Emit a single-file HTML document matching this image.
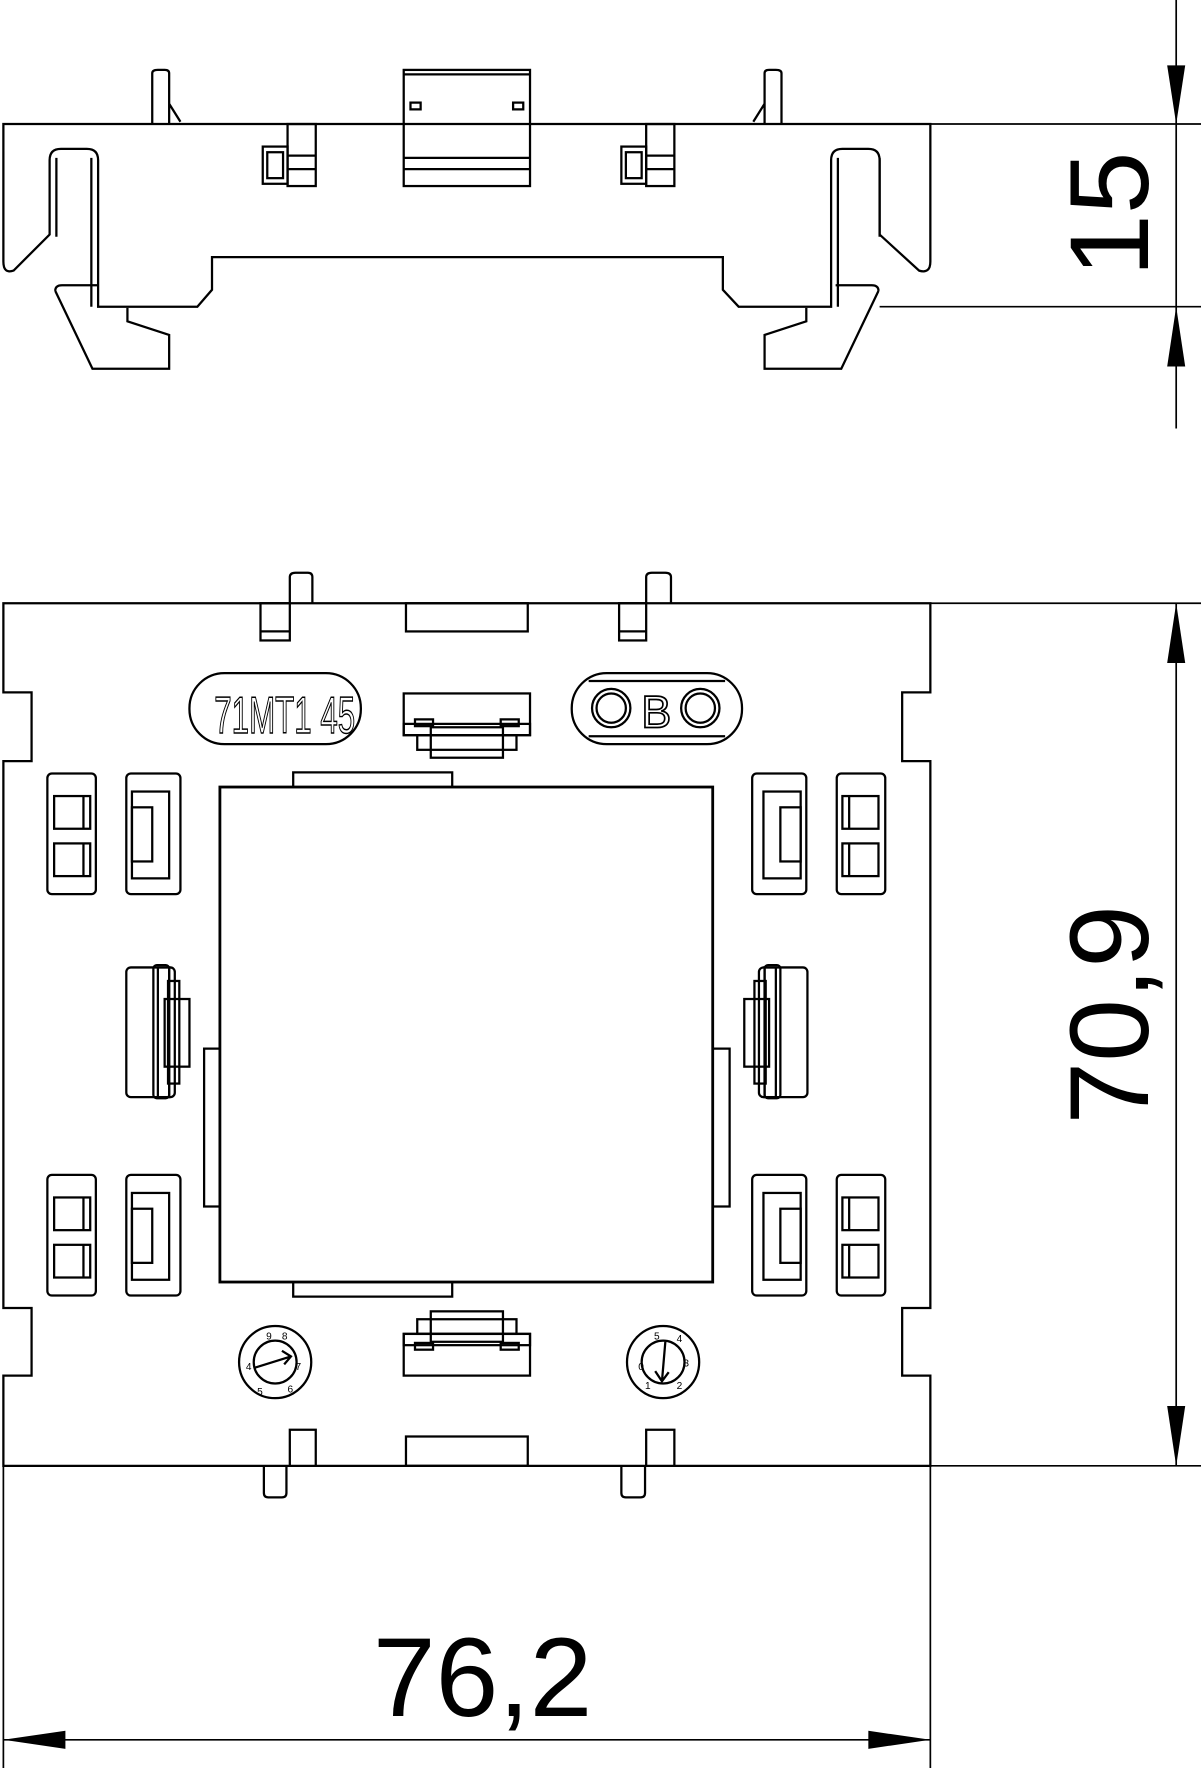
<!DOCTYPE html>
<html><head><meta charset="utf-8"><style>
html,body{margin:0;padding:0;background:#fff;}
svg{display:block;}
text{font-family:"Liberation Sans",sans-serif;}
</style></head><body>
<svg width="1201" height="1768" viewBox="0 0 1065 1568" preserveAspectRatio="none" xmlns="http://www.w3.org/2000/svg">
<defs>
<g id="boxA">
<rect x="0" y="0" width="43" height="107" rx="4" fill="none"/>
<rect x="6" y="20" width="32" height="29" fill="none"/>
<rect x="6" y="62" width="32" height="29" fill="none"/>
<line x1="32" y1="20" x2="32" y2="49"/><line x1="32" y1="62" x2="32" y2="91"/>
</g>
<g id="boxB">
<rect x="0" y="0" width="48" height="107" rx="4" fill="none"/>
<rect x="5" y="16" width="33" height="77" fill="none"/>
<rect x="5" y="30" width="18" height="48" fill="none"/>
</g>
<g id="clip">
<rect x="0" y="0" width="43" height="115" rx="4" fill="none"/>
<rect x="24" y="-2" width="14" height="118" rx="3" fill="none"/>
<rect x="28" y="0" width="10" height="115" fill="none"/>
<rect x="37" y="12" width="10" height="91" fill="none"/>
<rect x="34" y="28" width="22" height="60" fill="none"/>
</g>
<g id="conn">
<rect x="0" y="0" width="112" height="37" fill="none"/>
<rect x="0" y="27" width="112" height="10" fill="none"/>
<rect x="24" y="30" width="64" height="27" fill="none"/>
<rect x="12" y="37" width="88" height="13" fill="none"/>
<rect x="10" y="23" width="16" height="6" fill="none"/>
<rect x="86" y="23" width="16" height="6" fill="none"/>
</g>
</defs>
<g stroke="#000" stroke-width="2" fill="none">
<!-- TOP VIEW -->
<path d="M3,110 H825 V232 Q825,243 815,240 L780,208 V142 Q780,132 770,132 H747 Q737,132 737,142 V272 H655 L641,257 V228 H188 V257 L175,272 H87 V142 Q87,132 77,132 H54 Q44,132 44,142 V208 L12,240 Q3,243 3,232 Z"/>
<path d="M50,140 V210 M780,140 V210 M743,140 V272 M81,140 V272"/>
<path d="M49,258 Q49,253 55,253 H87 M113,273 V285 L150,297 V327 H82 L49,258"/>
<path d="M779,258 Q779,253 773,253 H741 M715,273 V285 L678,297 V327 H746 L779,258"/>
<path d="M135,110 V65 Q135,62 140,62 H146 Q150,62 150,65 V110 M150,92 L160,108"/>
<path d="M693,110 V65 Q693,62 688,62 H682 Q678,62 678,65 V110 M678,92 L668,108"/>
<rect x="358" y="62" width="112" height="103"/>
<path d="M358,140 H470 M358,150 H470 M358,66 H470"/>
<rect x="364" y="91" width="9" height="6"/><rect x="455" y="91" width="9" height="6"/>
<rect x="255" y="110" width="25" height="55"/><rect x="233" y="130" width="22" height="33"/><rect x="237" y="135" width="14" height="23"/>
<path d="M255,138 H280 M255,150 H280"/>
<rect x="573" y="110" width="25" height="55"/><rect x="551" y="130" width="22" height="33"/><rect x="555" y="135" width="14" height="23"/>
<path d="M573,138 H598 M573,150 H598"/>
<!-- top dimension -->
<path d="M825,110 H1065 M780,272 H1065 M1043,0 V380" stroke-width="1.5"/>
</g>
<polygon points="1043,110 1035,58 1051,58" fill="#000"/>
<polygon points="1043,272 1035,325 1051,325" fill="#000"/>
<text x="0" y="0" font-size="100" transform="translate(1018,190) rotate(-90)" text-anchor="middle">15</text>

<!-- BOTTOM VIEW -->
<g stroke="#000" stroke-width="2" fill="none">
<path d="M3,535 H825 V614 H800 V675 H825 V1160 H800 V1220 H825 V1300 H3 V1220 H28 V1160 H3 V675 H28 V614 H3 Z"/>
<path d="M257,535 V512 Q257,508 262,508 H273 Q277,508 277,512 V535 M573,535 V512 Q573,508 578,508 H590 Q595,508 595,512 V535"/>
<rect x="231" y="535" width="26" height="33"/><path d="M231,560 H257"/>
<rect x="549" y="535" width="24" height="33"/><path d="M549,560 H573"/>
<rect x="360" y="535" width="108" height="25"/>
<rect x="360" y="1274" width="108" height="26"/>
<path d="M257,1300 V1268 H280 V1300 M573,1300 V1268 H598 V1300"/>
<path d="M234,1300 V1324 Q234,1328 238,1328 H250 Q254,1328 254,1324 V1300 M551,1300 V1324 Q551,1328 555,1328 H568 Q572,1328 572,1324 V1300"/>
<rect x="168" y="597" width="152" height="63" rx="31"/>
<rect x="507" y="597" width="151" height="63" rx="31"/>
<path d="M522,604 H643 M522,653 H643"/>
<circle cx="542" cy="628" r="17"/><circle cx="542" cy="628" r="13"/>
<circle cx="621" cy="628" r="17"/><circle cx="621" cy="628" r="13"/>
<use href="#conn" x="358" y="615"/>
<g transform="translate(358,1220) scale(1,-1)"><use href="#conn"/></g>
<rect x="195" y="698" width="437" height="439" stroke-width="2.5"/>
<path d="M260,698 V685 H401 V698 M260,1137 V1150 H401 V1137 M195,930 H181 V1070 H195 M632,930 H647 V1070 H632"/>
<use href="#boxA" x="42" y="686"/><use href="#boxB" x="112" y="686"/>
<use href="#boxA" x="42" y="1042"/><use href="#boxB" x="112" y="1042"/>
<g transform="translate(785,686) scale(-1,1)"><use href="#boxA"/></g>
<g transform="translate(715,686) scale(-1,1)"><use href="#boxB"/></g>
<g transform="translate(785,1042) scale(-1,1)"><use href="#boxA"/></g>
<g transform="translate(715,1042) scale(-1,1)"><use href="#boxB"/></g>
<use href="#clip" x="112" y="858"/>
<g transform="translate(716,858) scale(-1,1)"><use href="#clip"/></g>
<circle cx="244" cy="1208" r="32"/><circle cx="244" cy="1208" r="19"/>
<path d="M226,1213 L258,1203 M250,1198 L258,1203 L252,1210" stroke-width="2"/>
<circle cx="588" cy="1208" r="32"/><circle cx="588" cy="1208" r="19"/>
<path d="M590,1190 L587,1225 M581,1216 L587,1225 L593,1217"/>
<path d="M825,535 H1065 M825,1300 H1065 M1043,535 V1300 M3,1300 V1568 M825,1300 V1568 M3,1543 H825" stroke-width="1.5"/>
</g>
<text x="190" y="650" font-size="46" fill="none" stroke="#000" stroke-width="1.3" textLength="125" lengthAdjust="spacingAndGlyphs">71MT1 45</text>
<text x="582" y="645" font-size="40" fill="none" stroke="#000" stroke-width="1.5" text-anchor="middle">B</text>
<g font-size="9" fill="#000">
<text x="218" y="1215">4</text><text x="228" y="1237">5</text><text x="255" y="1235">6</text><text x="262" y="1215">7</text><text x="250" y="1188">8</text><text x="236" y="1188">9</text>
<text x="566" y="1215">0</text><text x="572" y="1232">1</text><text x="600" y="1232">2</text><text x="606" y="1212">3</text><text x="600" y="1190">4</text><text x="580" y="1188">5</text>
</g>
<polygon points="1043,535 1035,588 1051,588" fill="#000"/>
<polygon points="1043,1300 1035,1247 1051,1247" fill="#000"/>
<text x="0" y="0" font-size="100" transform="translate(1018,900) rotate(-90)" text-anchor="middle">70,9</text>
<polygon points="3,1543 58,1535 58,1551" fill="#000"/>
<polygon points="825,1543 770,1535 770,1551" fill="#000"/>
<text x="428" y="1522" font-size="100" text-anchor="middle">76,2</text>
</svg>
</body></html>
